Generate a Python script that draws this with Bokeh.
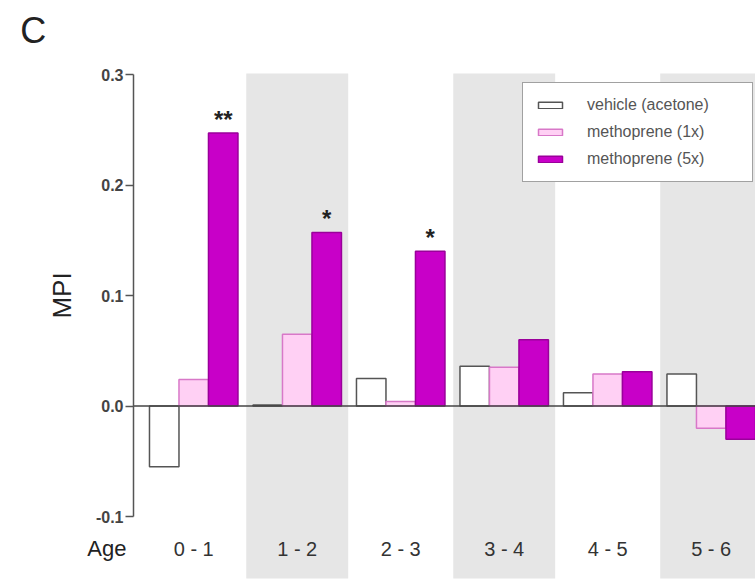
from bokeh.plotting import figure
from bokeh.models import ColumnDataSource, Range1d, FixedTicker, Label, PrintfTickFormatter
from bokeh.transform import dodge
from bokeh.core.properties import value
from bokeh.embed import file_html
from bokeh.resources import INLINE

# ---- data ----
ages = ["0 - 1", "1 - 2", "2 - 3", "3 - 4", "4 - 5", "5 - 6"]
vehicle = [-0.055, 0.001, 0.025, 0.036, 0.012, 0.029]
metho_1x = [0.024, 0.065, 0.004, 0.035, 0.029, -0.020]
metho_5x = [0.247, 0.157, 0.140, 0.060, 0.031, -0.030]
stars = ["**", "*", "*", "", "", ""]
y_ticks = [-0.1, 0.0, 0.1, 0.2, 0.3]
series_names = ["vehicle (acetone)", "methoprene (1x)", "methoprene (5x)"]

FONT = "Liberation Sans"
xs = list(range(len(ages)))
src = ColumnDataSource(dict(x=xs, age=ages, veh=vehicle, m1=metho_1x, m5=metho_5x, star=stars))
band_x = [i for i in xs if i % 2 == 1]
band_src = ColumnDataSource(dict(x=band_x))

p = figure(width=755, height=583, title=None,
           x_range=Range1d(-1.867, 5.428), y_range=Range1d(-0.1606, 0.367),
           output_backend="svg", toolbar_location=None,
           x_axis_location=None, y_axis_location="left",
           min_border_left=0, min_border_right=0, min_border_top=0, min_border_bottom=0)
p.outline_line_color = None
p.grid.visible = False
p.background_fill_color = "white"

# shaded bands behind alternate age groups
p.vbar(x="x", width=0.985, bottom=-0.1561, top=0.3009, source=band_src,
       fill_color="#e6e6e6", line_color=None)

bw = 0.285
p.vbar(x=dodge("x", -bw, range=p.x_range), top="veh", bottom=0, width=bw, source=src,
       fill_color="white", line_color="#555555", line_width=1.5, legend_label=series_names[0])
p.vbar(x=dodge("x", 0, range=p.x_range), top="m1", bottom=0, width=bw, source=src,
       fill_color="#ffd0f4", line_color="#d878c8", line_width=1.5, legend_label=series_names[1])
p.vbar(x=dodge("x", bw, range=p.x_range), top="m5", bottom=0, width=bw, source=src,
       fill_color="#c800c8", line_color="#9a009a", line_width=1.5, legend_label=series_names[2])

# zero line (from the y axis to the right edge)
AXIS_X = -0.582
p.segment(x0=AXIS_X, y0=0, x1=5.428, y1=0, line_color="#444444", line_width=1.5)

# significance stars
p.text(x=dodge("x", bw, range=p.x_range), y="m5", text="star", source=src,
       text_align="center", text_baseline="alphabetic", y_offset=-14,
       text_font=value(FONT), text_font_size="24px", text_font_style="bold", text_color="#222222")

# age labels
p.text(x="x", y=-0.129, text="age", source=src, text_align="center", text_baseline="middle",
       text_font=value(FONT), text_font_size="20px", text_color="#333333")

p.add_layout(Label(x=-0.65, y=-0.129, text="Age",
                   text_align="right", text_baseline="middle",
                   text_font=FONT, text_font_size="22px", text_color="#222222"))
p.add_layout(Label(x=-1.55, y=0.34, text="C",
                   text_align="center", text_baseline="middle",
                   text_font=FONT, text_font_size="36px", text_color="#222222"))

# y axis
ax = p.yaxis[0]
ax.fixed_location = AXIS_X
ax.ticker = FixedTicker(ticks=y_ticks)
ax.formatter = PrintfTickFormatter(format="%.1f")
ax.bounds = (-0.1, 0.3)
ax.axis_line_color = "#555555"
ax.axis_line_width = 1.5
ax.major_tick_line_color = "#555555"
ax.major_tick_line_width = 1.5
ax.major_tick_out = 8
ax.major_tick_in = 0
ax.minor_tick_line_color = None
ax.major_label_standoff = 2
ax.major_label_text_font = FONT
ax.major_label_text_font_size = "16px"
ax.major_label_text_font_style = "bold"
ax.major_label_text_color = "#444444"
ax.axis_label = "MPI"
ax.axis_label_text_font = FONT
ax.axis_label_text_font_size = "26px"
ax.axis_label_text_font_style = "normal"
ax.axis_label_text_color = "#222222"
ax.axis_label_standoff = 16

# legend
lg = p.legend[0]
lg.location = (522, 401)
lg.border_line_color = "#444444"
lg.border_line_width = 1
lg.background_fill_color = "white"
lg.background_fill_alpha = 1
lg.padding = 12
lg.spacing = 7
lg.glyph_width = 30
lg.glyph_height = 8
lg.label_height = 20
lg.label_width = 153
lg.label_standoff = 22
lg.label_text_font = FONT
lg.label_text_font_size = "16px"
lg.label_text_color = "#555555"
lg.margin = 0

open("out.html", "w").write(file_html(p, INLINE))
